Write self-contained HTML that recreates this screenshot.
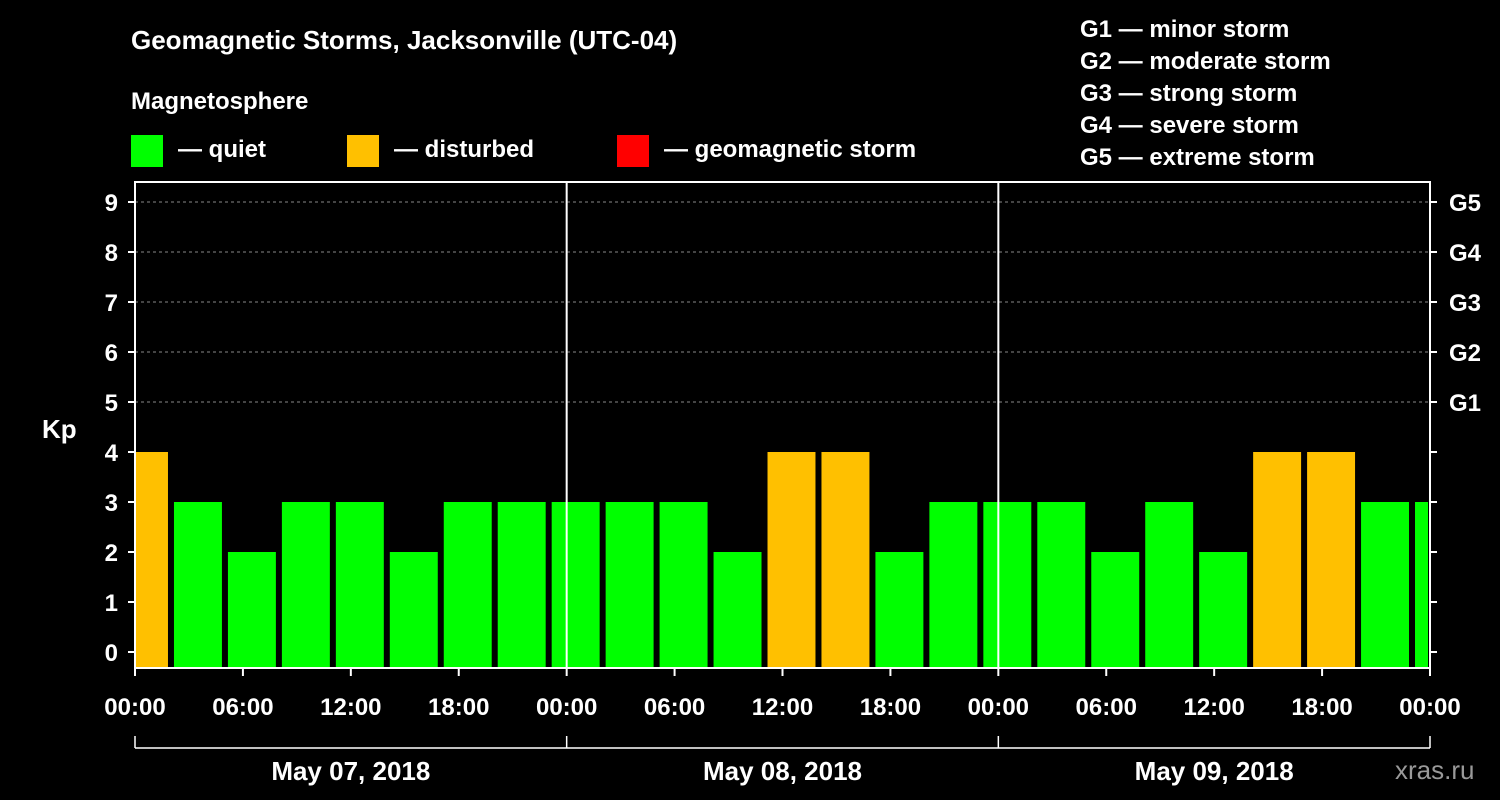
<!DOCTYPE html>
<html><head><meta charset="utf-8"><style>
body{margin:0;background:#000;}
svg{display:block;font-family:"Liberation Sans",Arial,sans-serif;font-weight:bold;}
</style></head><body>
<svg id="chart" width="1500" height="800" viewBox="0 0 1500 800">
<rect width="1500" height="800" fill="#000"/>
<text x="131" y="49" fill="#fff" font-size="26">Geomagnetic Storms, Jacksonville (UTC-04)</text>
<text x="131" y="109" fill="#fff" font-size="24">Magnetosphere</text>
<g><rect x="131" y="135" width="32" height="32" fill="#00ff00"/><text x="178" y="157" fill="#fff" font-size="24">— quiet</text></g>
<g><rect x="347" y="135" width="32" height="32" fill="#ffc000"/><text x="394" y="157" fill="#fff" font-size="24">— disturbed</text></g>
<g><rect x="617" y="135" width="32" height="32" fill="#ff0000"/><text x="664" y="157" fill="#fff" font-size="24">— geomagnetic storm</text></g>
<g fill="#fff" font-size="24">
<text x="1080" y="37">G1 — minor storm</text>
<text x="1080" y="69">G2 — moderate storm</text>
<text x="1080" y="101">G3 — strong storm</text>
<text x="1080" y="133">G4 — severe storm</text>
<text x="1080" y="165">G5 — extreme storm</text>
</g>
<text x="42" y="438" fill="#fff" font-size="26">Kp</text>
<text x="1395" y="779" fill="#999" font-size="26" font-weight="normal">xras.ru</text>
<g id="grid"></g><g id="bars"></g><g id="axes"></g>
</svg>
<script>
const kpValues=[4,3,2,3,3,2,3,3,3,3,3,2,4,4,2,3,3,3,2,3,2,4,4,3,3];
const yTicks=[0,1,2,3,4,5,6,7,8,9];
const gLabels=["G1","G2","G3","G4","G5"];
const xLabels=["00:00","06:00","12:00","18:00","00:00","06:00","12:00","18:00","00:00","06:00","12:00","18:00","00:00"];
const dateLabels=["May 07, 2018","May 08, 2018","May 09, 2018"];
const firstSlotHour=-1;
const NS="http://www.w3.org/2000/svg";
const L=135,R=1430,T=182,B=668;
const pxPerHour=(R-L)/72;
function x(h){return L+h*pxPerHour;}
function y(v){return 652-v*50;}
function mk(p,tag,attrs){const e=document.createElementNS(NS,tag);for(const k in attrs)e.setAttribute(k,attrs[k]);p.appendChild(e);return e;}
const grid=document.getElementById('grid'),bars=document.getElementById('bars'),axes=document.getElementById('axes');
for(let v=5;v<=9;v++){const l=mk(grid,'line',{x1:L,x2:R,y1:y(v),y2:y(v),stroke:'#888','stroke-dasharray':'3,3','stroke-width':1});

}
kpValues.forEach((v,i)=>{
 let x0=x(firstSlotHour+3*i)+3,x1=x(firstSlotHour+3*i+3)-3;
 x0=Math.max(x0,L+1);x1=Math.min(x1,R-2);
 if(x1<=x0)return;
 const c=v>=5?'#ff0000':(v>=4?'#ffc000':'#00ff00');
 const r=mk(bars,'rect',{x:x0,y:y(v),width:x1-x0,height:B-y(v),fill:c});
 
 
});
// day separators
for(let d=1;d<3;d++){const l=mk(axes,'line',{x1:x(24*d),x2:x(24*d),y1:T,y2:B,stroke:'#fff','stroke-width':2});

}
const frame=mk(axes,'rect',{x:L,y:T,width:R-L,height:B-T,fill:'none',stroke:'#fff','stroke-width':2});


yTicks.forEach(v=>{
 mk(axes,'line',{x1:L-7,x2:L,y1:y(v),y2:y(v),stroke:'#fff','stroke-width':2});
 mk(axes,'line',{x1:R,x2:R+7,y1:y(v),y2:y(v),stroke:'#fff','stroke-width':2});
 const t=mk(axes,'text',{x:L-17,y:y(v)+9,fill:'#fff','font-size':24,'text-anchor':'end'});t.textContent=v;
 
 
});
gLabels.forEach((g,i)=>{const t=mk(axes,'text',{x:R+19,y:y(5+i)+9,fill:'#fff','font-size':24});t.textContent=g;
 
 });
xLabels.forEach((s,i)=>{const xx=x(6*i);
 mk(axes,'line',{x1:xx,x2:xx,y1:B,y2:B+8,stroke:'#fff','stroke-width':2});
 const t=mk(axes,'text',{x:xx,y:715,fill:'#fff','font-size':24,'text-anchor':'middle'});t.textContent=s;
 
 });
mk(axes,'line',{x1:L,x2:R,y1:748,y2:748,stroke:'#fff','stroke-width':1.5});
for(let d=0;d<=3;d++)mk(axes,'line',{x1:x(24*d),x2:x(24*d),y1:736,y2:748,stroke:'#fff','stroke-width':1.5});
dateLabels.forEach((s,i)=>{const t=mk(axes,'text',{x:x(24*i+12),y:780,fill:'#fff','font-size':26,'text-anchor':'middle'});t.textContent=s;
 
 });
</script>
</body></html>
